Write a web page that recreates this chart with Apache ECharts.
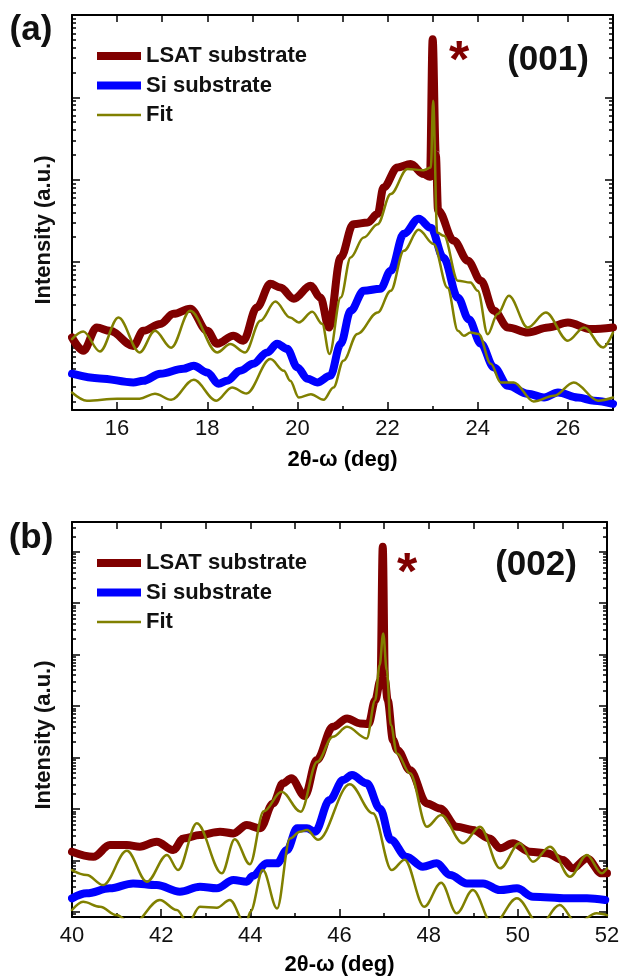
<!DOCTYPE html>
<html>
<head>
<meta charset="utf-8">
<script src="https://cdn.jsdelivr.net/npm/echarts@6/dist/echarts.min.js"></script>
<style>
html,body{margin:0;padding:0;background:#fff}
#chart{width:623px;height:978px}
</style>
</head>
<body>
<div id="chart"></div>
<script>
// (a) (001) reflection
var a_lsat_x = [15.0,15.25,15.55,15.84,16.36,16.58,16.96,17.25,17.62,18.0,18.22,18.58,18.8,19.1,19.4,19.62,19.92,20.29,20.51,20.7,20.96,21.24,21.56,21.78,21.91,22.22,22.51,22.8,22.94,23.0,23.07,23.12,23.47,23.78,24.07,24.36,24.67,25.11,25.56,26.0,26.51,27.0];
var a_lsat_y = [12.0,8.3,15.9,14.5,9.5,14.5,17.6,23.3,26.9,14.5,10.1,12.6,11.0,27.9,54.1,48.7,35.5,51.1,36.8,15.9,113,287,300,383,800,1400,1540,1170,1080,50800,2000,420,180,103,58.8,25.4,15.9,13.8,15.9,18.3,15.2,15.9];

var a_si_x = [15.0,15.62,16.36,16.58,16.96,17.47,17.7,18.0,18.25,18.44,18.73,19.02,19.33,19.55,19.77,20.0,20.22,20.44,20.73,20.96,21.18,21.47,21.84,22.07,22.36,22.69,22.96,23.24,23.56,23.8,24.07,24.36,24.67,25.11,25.47,25.78,26.22,26.58,27.0];
var a_si_y = [4.36,3.82,3.42,3.58,4.36,5.01,5.45,4.52,3.29,3.58,4.74,5.76,7.91,10.1,8.77,5.2,3.79,3.42,4.12,10.1,25.4,44.4,47.0,77.8,219,333,259,112,36.5,20,10.1,5.2,3.11,2.49,2.24,2.58,2.24,2.05,1.88];

var a_fitL_x = [15.0,15.25,15.62,16.03,16.5,16.84,17.2,17.62,18.22,18.51,18.84,19.18,19.51,19.84,20.03,20.33,20.55,20.71,20.96,21.18,21.47,21.78,22.07,22.44,22.8,22.96,23.01,23.1,23.25,23.56,23.84,24.0,24.22,24.44,24.69,25.11,25.51,26.0,26.36,26.78,27.0];
var a_fitL_y = [11.5,14.2,8.13,21.0,7.91,14.5,9.02,25.4,7.91,10.0,7.91,19.2,32.9,21.0,18.3,24.7,17.6,7.56,36.8,113,197,287,665,1340,1300,1400,9040,227,207,58.8,56.0,44.4,13.2,23.2,38.6,15.9,24.2,11.0,15.9,9.1,13.8];

var a_fitS_x = [15.0,15.33,16.0,16.5,16.84,17.2,17.7,18.2,18.55,18.87,19.4,19.7,19.84,20.03,20.3,20.58,20.8,21.02,21.33,21.78,22.07,22.36,22.69,23.02,23.33,23.56,23.69,23.84,24.02,24.29,24.51,24.8,25.24,25.69,26.13,26.67,27.0];
var a_fitS_y = [2.58,2.05,2.17,2.17,2.49,2.1,3.68,2.05,2.97,2.51,6.57,4.74,3.58,2.24,2.45,2.1,2.97,6.27,13.3,24.2,44.4,136,245,165,48.3,14.5,12.6,13.8,13.3,5.76,3.42,3.42,2.01,2.35,3.42,2.05,2.24];

// (b) (002) reflection
var b_lsat_x = [40.0,40.48,40.85,41.23,41.52,41.9,42.27,42.5,42.87,43.32,43.62,43.92,44.22,44.51,44.73,44.92,45.22,45.49,45.85,46.17,46.46,46.65,46.8,46.92,46.97,47.02,47.08,47.2,47.3,47.58,47.96,48.25,48.63,48.99,49.37,49.6,49.89,50.27,50.65,51.01,51.23,51.55,51.88,52.0];
var b_lsat_y = [147,117,198,198,184,230,158,267,310,360,334,485,419,1280,3140,3930,1780,8910,39500,57500,46000,44700,130000,320000,1.25e8,320000,130000,21800,13900,5690,1280,1020,450,388,267,171,214,147,137,101,69.8,109,55.8,55.8];

var b_si_x = [40.0,40.33,40.85,41.37,41.9,42.42,42.87,43.25,43.62,43.92,44.05,44.37,44.6,44.82,45.05,45.27,45.45,45.78,46.08,46.28,46.61,46.91,47.15,47.5,47.87,48.18,48.48,48.86,49.22,49.6,49.98,50.34,51.1,51.55,51.96];
var b_si_y = [18.2,22.8,28.5,35.6,33.0,24.5,30.6,28.5,41.3,38.3,49.4,87.3,87.3,158,419,419,360,1490,3640,4550,3140,1010,250,117,75,87.3,51.7,35.6,35.6,26.4,28.5,19.6,18.2,18.2,16.9];

var b_fitL_x = [40.0,40.33,40.7,41.23,41.68,42.13,42.38,42.8,43.36,43.65,43.99,44.3,44.7,45.13,45.5,45.85,46.17,46.61,46.8,46.9,46.98,47.06,47.15,47.29,47.58,47.96,48.28,48.77,49.15,49.6,50.04,50.34,50.72,51.17,51.55,51.88,52.0];
var b_fitL_y = [64.7,51.7,33.0,153,38.3,127,64.7,524,55.8,256,83.9,900,2150,880,8260,25300,39500,23500,130000,627000,2.59e6,501000,42700,12000,4910,450,759,214,450,69.8,214,93.8,184,48,127,55.8,69.8];

var b_fitS_x = [40.0,40.25,40.63,41.0,41.35,41.97,42.35,42.6,42.87,43.25,43.54,43.9,44.0,44.28,44.6,44.89,45.11,45.27,45.52,46.23,46.75,47.17,47.46,47.9,48.28,48.63,48.99,49.44,49.98,50.49,50.94,51.32,51.77,52.0];
var b_fitS_y = [10.8,15.6,12.5,8.6,5.6,16.9,10.8,6.0,12.5,12.0,16.9,5.5,10,64.7,11.6,267,360,388,251,3010,819,64.7,103,12.5,36.6,9.3,26.4,5.5,18.2,5.5,13.5,6.0,9.3,8.6];

// tick values
var a_xLabels = [16,18,20,22,24,26];
var a_xMinor = [15,17,19,21,23,25,27];
var b_xLabels = [40,42,44,46,48,50,52];
var b_xMinor = [41,43,45,47,49,51];
var a_yMajor = [10,100,1000,10000,100000];
var b_yMajor = [10,100,1e3,1e4,1e5,1e6,1e7,1e8];

var FF = 'Liberation Sans, Arial, Helvetica, sans-serif';
var C_LSAT = '#800000', C_SI = '#0000ff', C_FIT = '#808000';

function pairs(xs, ys) {
  return xs.map(function (x, i) { return [x, ys[i]]; });
}
function logMinor(lo, hi) {
  var out = [];
  for (var e = 0; e <= 9; e++) {
    for (var k = 2; k <= 9; k++) {
      var v = k * Math.pow(10, e);
      if (v >= lo && v <= hi) out.push(v);
    }
  }
  return out;
}

var tickLine = {color: '#000', width: 1.5};

function xAxes(gi, min, max, labels, minor, gap) {
  return [
    {type: 'value', gridIndex: gi, min: min, max: max, position: 'bottom',
     splitLine: {show: false},
     axisLine: {onZero: false, lineStyle: {color: '#000', width: 2}},
     axisTick: {inside: true, length: 8, customValues: labels, lineStyle: tickLine},
     axisLabel: {customValues: labels, fontSize: 22, color: '#111', margin: 8, fontFamily: FF},
     name: '2θ-ω (deg)', nameLocation: 'middle', nameGap: gap,
     nameTextStyle: {fontSize: 22, fontWeight: 'bold', color: '#000', fontFamily: FF}},
    {type: 'value', gridIndex: gi, min: min, max: max, position: 'bottom',
     splitLine: {show: false}, axisLine: {show: false, onZero: false},
     axisTick: {inside: true, length: 4, customValues: minor, lineStyle: tickLine},
     axisLabel: {show: false}},
    {type: 'value', gridIndex: gi, min: min, max: max, position: 'top', interval: 1,
     splitLine: {show: false},
     axisLine: {onZero: false, lineStyle: {color: '#000', width: 2}},
     axisTick: {inside: true, length: 7, lineStyle: tickLine},
     axisLabel: {show: false}}
  ];
}

function yAxes(gi, min, max, major) {
  var minor = logMinor(min, max);
  var out = [];
  ['left', 'right'].forEach(function (pos) {
    out.push({type: 'log', gridIndex: gi, min: min, max: max, position: pos,
      splitLine: {show: false}, axisLabel: {show: false},
      axisLine: {lineStyle: {color: '#000', width: 2}},
      axisTick: {inside: true, length: 8, customValues: major, lineStyle: tickLine}});
    out.push({type: 'log', gridIndex: gi, min: min, max: max, position: pos,
      splitLine: {show: false}, axisLabel: {show: false},
      axisLine: {show: false},
      axisTick: {inside: true, length: 4, customValues: minor, lineStyle: tickLine}});
  });
  return out;
}

function line(name, xs, ys, color, width, gi) {
  return {
    name: name, type: 'line', xAxisIndex: gi * 3, yAxisIndex: gi * 4,
    data: pairs(xs, ys), symbol: 'none', smooth: 0.35, smoothMonotone: 'x',
    lineStyle: {color: color, width: width, cap: 'round', join: 'round'},
    itemStyle: {color: color}
  };
}

var legendBase = {
  orient: 'vertical', left: 93, padding: 0, itemWidth: 44, itemHeight: 14, itemGap: 7.5,
  selectedMode: false, data: ['LSAT substrate', 'Si substrate', 'Fit'],
  itemStyle: {opacity: 0},
  lineStyle: {width: 'inherit', cap: 'butt'},
  textStyle: {fontSize: 22, fontWeight: 'bold', color: '#111', fontFamily: FF, lineHeight: 22}
};

function label(text, x, y, size, color, rot) {
  return {type: 'text', x: x, y: y, rotation: rot || 0,
    style: {text: text, fontSize: size, fontWeight: 'bold', fontFamily: FF, fill: color,
            align: 'center', verticalAlign: 'middle'}};
}

var chart = echarts.init(document.getElementById('chart'), null, {renderer: 'canvas'});

var option = {
  animation: false,
  backgroundColor: '#fff',
  grid: [
    {left: 72, top: 15, width: 541, height: 395},
    {left: 72, top: 522, width: 535, height: 395}
  ],
  legend: [
    Object.assign({}, legendBase, {top: 45}),
    Object.assign({}, legendBase, {top: 552})
  ],
  xAxis: xAxes(0, 15, 27, a_xLabels, a_xMinor, 39).concat(xAxes(1, 40, 52, b_xLabels, b_xMinor, 37)),
  yAxis: yAxes(0, 1.58, 100000, a_yMajor).concat(yAxes(1, 7.9, 3.8e8, b_yMajor)),
  series: [
    line('LSAT substrate', a_lsat_x, a_lsat_y, C_LSAT, 8, 0),
    line('Si substrate', a_si_x, a_si_y, C_SI, 8, 0),
    line('Fit', a_fitL_x, a_fitL_y, C_FIT, 2.5, 0),
    line('Fit', a_fitS_x, a_fitS_y, C_FIT, 2.5, 0),
    line('LSAT substrate', b_lsat_x, b_lsat_y, C_LSAT, 8, 1),
    line('Si substrate', b_si_x, b_si_y, C_SI, 8, 1),
    line('Fit', b_fitL_x, b_fitL_y, C_FIT, 2.5, 1),
    line('Fit', b_fitS_x, b_fitS_y, C_FIT, 2.5, 1)
  ],
  graphic: [
    label('(a)', 31, 30, 35, '#111'),
    label('(b)', 31, 538, 35, '#111'),
    label('(001)', 548, 60, 35, '#111'),
    label('(002)', 536, 565, 35, '#111'),
    label('*', 459, 63, 52, C_LSAT),
    label('*', 407, 575, 52, C_LSAT),
    label('Intensity (a.u.)', 44, 230, 22, '#111', Math.PI / 2),
    label('Intensity (a.u.)', 44, 735, 22, '#111', Math.PI / 2)
  ]
};

chart.setOption(option);
window.addEventListener('resize', function () { chart.resize(); });
</script>
</body>
</html>
